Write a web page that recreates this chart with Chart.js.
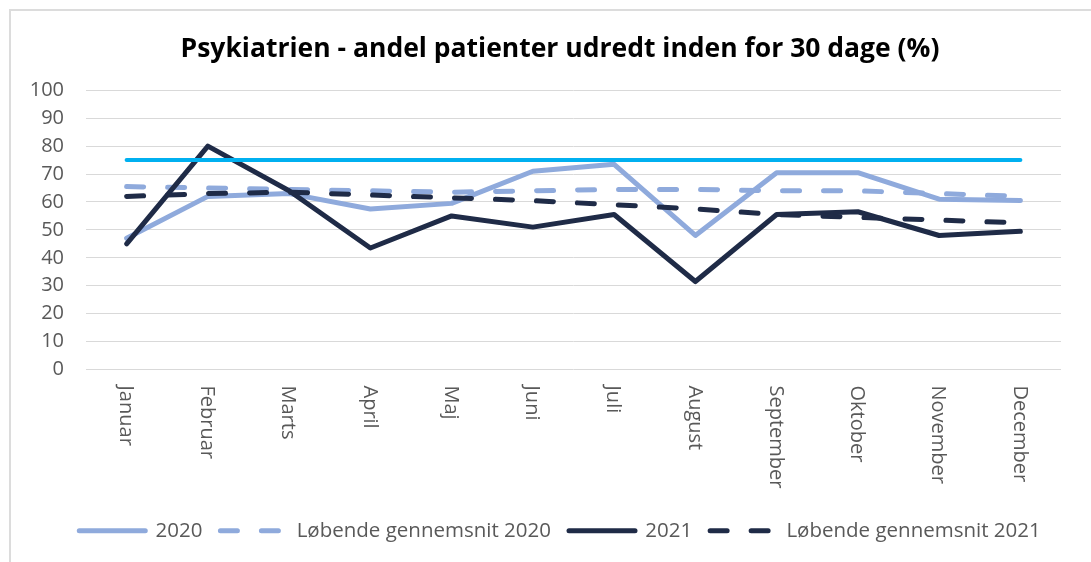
<!DOCTYPE html>
<html><head><meta charset="utf-8">
<script src="https://cdn.jsdelivr.net/npm/chart.js@4/dist/chart.umd.min.js"></script>
<style>
html,body{margin:0;padding:0;background:#fff;overflow:hidden}
#wrap{position:relative;width:1091px;height:562px;overflow:hidden}
#frame{position:absolute;left:9px;top:9px;width:1120px;height:600px;border:2px solid #dcdcdc;box-sizing:border-box}
canvas{position:absolute;left:0;top:0}
</style></head>
<body><div id="wrap"><div id="frame"></div><canvas id="c" width="1091" height="562"></canvas></div>
<script>
const months = ['Januar','Februar','Marts','April','Maj','Juni','Juli','August','September','Oktober','November','December'];
const v2020 = [47, 62, 63, 57.5, 59.5, 71, 73.5, 48, 70.5, 70.5, 61, 60.5];
const lob2020 = [65.5, 65, 64.5, 64, 63.5, 64, 64.5, 64.5, 64, 64, 63, 62];
const v2021 = [45, 80, 64, 43.5, 55, 51, 55.5, 31.5, 55.5, 56.5, 48, 49.5];
const lob2021 = [62, 63, 63.5, 62.5, 61.5, 60.5, 59, 57.5, 55.5, 54.5, 53.5, 52.5];
const target = [75, 75, 75, 75, 75, 75, 75, 75, 75, 75, 75, 75];
const yTicks = [0,10,20,30,40,50,60,70,80,90,100];
const titleText = 'Psykiatrien - andel patienter udredt inden for 30 dage (%)';

const LIGHT = '#8FAADC', DARK = '#1F2B47', CYAN = '#00B0F0', GREY = '#595959';
const FONT = '"Open Sans"';

const xLabelPlugin = {
  id: 'xLabels',
  afterDraw(chart) {
    const ctx = chart.ctx, xs = chart.scales.x;
    ctx.save();
    ctx.font = '20px ' + FONT;
    ctx.fillStyle = GREY;
    ctx.textAlign = 'left';
    ctx.textBaseline = 'middle';
    months.forEach((m, i) => {
      const x = xs.getPixelForValue(i);
      ctx.save();
      ctx.translate(x - 1, chart.chartArea.bottom + 16);
      ctx.rotate(Math.PI / 2);
      ctx.fillText(m, 0, 0);
      ctx.restore();
    });
    ctx.restore();
  }
};

const common = { pointRadius: 0, pointHoverRadius: 0, tension: 0, fill: false, borderCapStyle: 'round', borderJoinStyle: 'round' };

new Chart(document.getElementById('c'), {
  type: 'line',
  data: {
    labels: months,
    datasets: [
      Object.assign({ label: '2020', data: v2020, borderColor: LIGHT, backgroundColor: LIGHT, borderWidth: 5, order: 5 }, common),
      Object.assign({ label: 'Løbende gennemsnit 2020', data: lob2020, borderColor: LIGHT, backgroundColor: LIGHT, borderWidth: 5, borderDash: [17, 24], order: 4 }, common),
      Object.assign({ label: '2021', data: v2021, borderColor: DARK, backgroundColor: DARK, borderWidth: 5, order: 3 }, common),
      Object.assign({ label: 'Løbende gennemsnit 2021', data: lob2021, borderColor: DARK, backgroundColor: DARK, borderWidth: 5, borderDash: [17, 24], order: 2 }, common),
      Object.assign({ label: 'Mål', data: target, borderColor: CYAN, backgroundColor: CYAN, borderWidth: 4, order: 1 }, common)
    ]
  },
  options: {
    responsive: false,
    animation: false,
    devicePixelRatio: 1,
    layout: { padding: { left: 29, right: 0, top: 0, bottom: 11 } },
    plugins: {
      tooltip: { enabled: false },
      title: {
        display: true, text: titleText, color: '#000',
        font: { family: FONT, size: 26.5, weight: 'bold' },
        padding: { top: 34, bottom: 24.5 }
      },
      legend: {
        position: 'bottom',
        labels: {
          usePointStyle: true, pointStyle: 'line', pointStyleWidth: 66,
          color: GREY, font: { family: FONT, size: 20.5 }, padding: 18,
          generateLabels: (chart) => {
            const items = Chart.defaults.plugins.legend.labels.generateLabels(chart);
            items.forEach(it => {
              const ds = chart.data.datasets[it.datasetIndex];
              it.lineDash = ds.borderDash || [];
              it.lineCap = 'round';
              it.lineWidth = ds.borderWidth;
              it.strokeStyle = ds.borderColor;
              it.fillStyle = ds.borderColor;
              it.pointStyle = 'line';
            });
            return items;
          },
          filter: (item) => item.datasetIndex < 4,
          sort: (a, b) => a.datasetIndex - b.datasetIndex
        }
      }
    },
    scales: {
      x: {
        type: 'category', offset: true,
        grid: { display: false, drawTicks: false },
        border: { display: false },
        ticks: { display: false },
        afterFit: (s) => { s.height = 133; }
      },
      y: {
        min: 0, max: 100,
        afterBuildTicks: (s) => { s.ticks = yTicks.map(v => ({ value: v })); },
        grid: { color: '#d9d9d9', lineWidth: 1, drawTicks: false },
        border: { display: false },
        ticks: { color: GREY, font: { family: FONT, size: 20 }, padding: 22 },
        afterFit: (s) => { s.width = 57; }
      },
      yR: {
        type: 'linear', position: 'right', display: true,
        grid: { display: false, drawTicks: false },
        border: { display: false },
        ticks: { display: false },
        afterFit: (s) => { s.width = 30; }
      }
    }
  },
  plugins: [xLabelPlugin]
});
</script>
</body></html>
